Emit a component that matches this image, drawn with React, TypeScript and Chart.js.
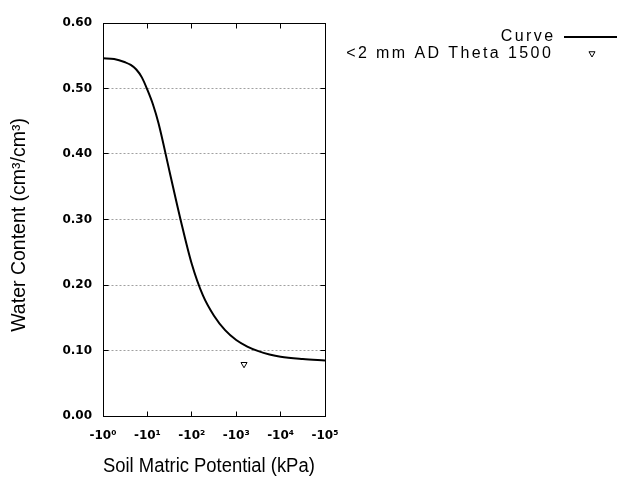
import React, { useEffect, useRef } from 'react';
import { Chart, registerables } from 'chart.js';

Chart.register(...registerables);

// Curve: soil matric potential magnitude (kPa) vs water content (cm3/cm3)
const curvePotential = [1, 1.78, 3.16, 4.22, 5.62, 7.5, 10, 13.3, 17.8, 31.6, 56.2, 100, 178, 316, 562, 1000, 1780, 3160, 5620, 10000, 31600, 100000];
const curveTheta = [0.546, 0.545, 0.540, 0.536, 0.529, 0.517, 0.498, 0.476, 0.447, 0.373, 0.299, 0.232, 0.184, 0.153, 0.131, 0.116, 0.106, 0.099, 0.094, 0.0905, 0.087, 0.0847];

// Measured point
const markerPotential = [1500];
const markerTheta = [0.079];

const xTickValues = [1, 10, 100, 1000, 10000, 100000];
const xTickLabels = ['-10⁰', '-10¹', '-10²', '-10³', '-10⁴', '-10⁵'];
const yTickValues = [0, 0.1, 0.2, 0.3, 0.4, 0.5, 0.6];

const legendLabels = ['Curve', '<2 mm AD Theta 1500'];
const xTitle = 'Soil Matric Potential (kPa)  ';
const yTitle = 'Water Content (cm³/cm³)  ';

const framePlugin = {
  id: 'frame',
  beforeDatasetsDraw(chart: any) {
    const { ctx, chartArea: a, scales } = chart;
    const L = Math.floor(a.left) + 0.5;
    const R = Math.floor(a.right) + 0.5;
    const T = Math.floor(a.top) + 0.5;
    const B = Math.floor(a.bottom) + 0.5;
    const line = (x1: number, y1: number, x2: number, y2: number) => {
      ctx.beginPath();
      ctx.moveTo(x1, y1);
      ctx.lineTo(x2, y2);
      ctx.stroke();
    };
    ctx.save();
    ctx.lineWidth = 1;
    ctx.strokeStyle = '#a0a0a0';
    ctx.setLineDash([2, 2]);
    yTickValues.forEach((v, i) => {
      if (i === 0 || i === yTickValues.length - 1) return;
      const y = Math.floor(scales.y.getPixelForValue(v)) + 0.5;
      line(L, y, R, y);
    });
    ctx.setLineDash([]);
    ctx.strokeStyle = '#000';
    const tl = 5;
    xTickValues.forEach((v, i) => {
      if (i === 0 || i === xTickValues.length - 1) return;
      const x = Math.floor(scales.x.getPixelForValue(v)) + 0.5;
      line(x, B, x, B - tl);
      line(x, T, x, T + tl);
    });
    yTickValues.forEach((v, i) => {
      if (i === 0 || i === yTickValues.length - 1) return;
      const y = Math.floor(scales.y.getPixelForValue(v)) + 0.5;
      line(L, y, L + tl, y);
      line(R, y, R - tl, y);
    });
    ctx.strokeRect(L, T, R - L, B - T);
    ctx.restore();
  },
  afterDraw(chart: any) {
    const { ctx } = chart;
    ctx.save();
    ctx.fillStyle = '#000';
    ctx.font = '16px "Liberation Sans", Arial, sans-serif';
    (ctx as any).letterSpacing = '2.4px';
    ctx.textAlign = 'right';
    ctx.textBaseline = 'middle';
    ctx.fillText(legendLabels[0], 555.5, 37);
    ctx.fillText(legendLabels[1], 553.2, 53.5);
    (ctx as any).letterSpacing = '0px';
    // line sample
    ctx.strokeStyle = '#000';
    ctx.lineWidth = 2;
    ctx.beginPath();
    ctx.moveTo(564, 37);
    ctx.lineTo(617, 37);
    ctx.stroke();
    // triangle sample (pointing down)
    const cx = 592, cy = 53.5, r = 3.5;
    ctx.lineWidth = 1;
    ctx.beginPath();
    for (let k = 0; k < 3; k++) {
      const ang = Math.PI + k * (2 * Math.PI / 3);
      const px = cx + Math.sin(ang) * r;
      const py = cy - Math.cos(ang) * r;
      if (k === 0) ctx.moveTo(px, py); else ctx.lineTo(px, py);
    }
    ctx.closePath();
    ctx.stroke();
    ctx.restore();
  },
};

export default function App() {
  const ref = useRef<HTMLCanvasElement | null>(null);

  useEffect(() => {
    if (!ref.current) return;
    const tickFont = { family: '"DejaVu Sans", sans-serif', size: 12, weight: 'bold' as const };
    const titleFont = { family: '"Liberation Sans", Arial, sans-serif', size: 19.5 };
    const chart = new Chart(ref.current, {
      type: 'line',
      data: {
        datasets: [
          {
            label: legendLabels[0],
            data: curvePotential.map((x, i) => ({ x, y: curveTheta[i] })),
            borderColor: '#000',
            borderWidth: 2,
            pointRadius: 0,
            fill: false,
            cubicInterpolationMode: 'monotone',
          },
          {
            label: legendLabels[1],
            data: markerPotential.map((x, i) => ({ x, y: markerTheta[i] })),
            showLine: false,
            pointStyle: 'triangle',
            rotation: 180,
            pointRadius: 3.5,
            pointBorderWidth: 1,
            pointBorderColor: '#000',
            pointBackgroundColor: 'rgba(255,255,255,0)',
            borderColor: '#000',
          },
        ],
      },
      options: {
        animation: false,
        responsive: false,
        devicePixelRatio: 1,
        layout: { padding: { left: 0, top: 23, right: 315, bottom: 0 } },
        plugins: {
          legend: { display: false },
          tooltip: { enabled: false },
          title: { display: false },
        },
        scales: {
          x: {
            type: 'logarithmic',
            position: 'bottom',
            min: 1,
            max: 100000,
            afterBuildTicks: (s: any) => {
              s.ticks = xTickValues.map((v) => ({ value: v }));
            },
            afterFit: (s: any) => {
              s.height = 64;
            },
            grid: { display: false, drawTicks: false },
            border: { display: false },
            ticks: {
              autoSkip: false,
              maxRotation: 0,
              minRotation: 0,
              padding: 13,
              color: '#000',
              font: tickFont,
              callback: (_v: any, i: number) => xTickLabels[i],
            },
            title: {
              display: true,
              text: xTitle,
              color: '#000',
              font: titleFont,
              padding: { top: 0, bottom: 2 },
            },
          },
          y: {
            type: 'linear',
            min: 0,
            max: 0.6,
            afterBuildTicks: (s: any) => {
              s.ticks = yTickValues.map((v) => ({ value: v }));
            },
            afterFit: (s: any) => {
              s.width = 103;
            },
            grid: { display: false, drawTicks: false },
            border: { display: false },
            ticks: {
              padding: 11,
              color: '#000',
              font: tickFont,
              callback: (v: any) => Number(v).toFixed(2),
            },
            title: {
              display: true,
              text: yTitle,
              color: '#000',
              font: titleFont,
              padding: { top: 8, bottom: 0 },
            },
          },
        },
      } as any,
      plugins: [framePlugin],
    });
    return () => chart.destroy();
  }, []);

  return (
    <div style={{ position: 'fixed', left: 0, top: 0, width: 640, height: 480, background: '#fff' }}>
      <canvas ref={ref} width={640} height={480} style={{ width: 640, height: 480, display: 'block' }} />
    </div>
  );
}
